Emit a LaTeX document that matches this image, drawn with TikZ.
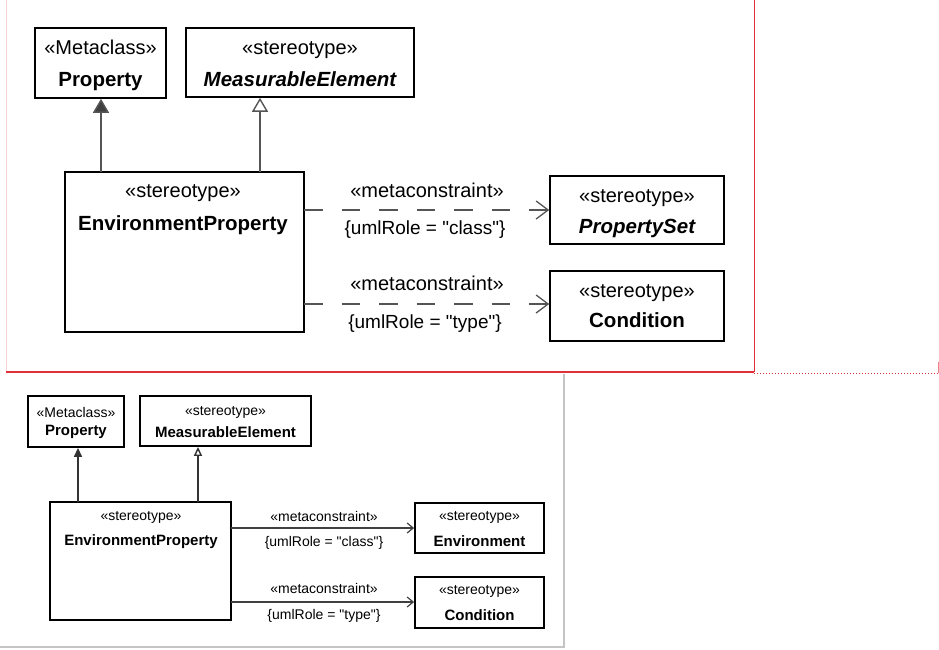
\documentclass[tikz,border=0pt]{standalone}
\usepackage{fontspec}
\setmainfont{Liberation Sans}[Ligatures=TeXOff]
\usetikzlibrary{arrows.meta,calc}
\definecolor{conn}{HTML}{555555}
\definecolor{tipfill}{HTML}{404040}
\definecolor{frred}{HTML}{E0303A}
\definecolor{frpink}{HTML}{F6D4D6}
\definecolor{frgray}{HTML}{C4C4C4}
\tikzset{
  box/.style={draw=black,line width=1.6pt,rectangle,inner sep=0pt},
  sbox/.style={draw=black,line width=1.8pt,rectangle,inner sep=0pt},
  txt/.style={inner sep=0pt,anchor=base,font=\fontsize{20}{22}\selectfont},
  btxt/.style={inner sep=0pt,anchor=base,font=\fontsize{20.5}{22}\selectfont\bfseries},
  bitxt/.style={inner sep=0pt,anchor=base,font=\fontsize{20.5}{22}\selectfont\bfseries\itshape},
  rtxt/.style={inner sep=0pt,anchor=base,font=\fontsize{19}{21}\selectfont},
  stxt/.style={inner sep=0pt,font=\fontsize{14}{15}\selectfont},
  sbtxt/.style={inner sep=0pt,font=\fontsize{15}{16}\selectfont\bfseries},
  genfill/.style={draw=conn,line width=1.4pt,-{Triangle[width=16pt,length=14pt,fill=tipfill]}},
  genopen/.style={draw=conn,line width=1.4pt,-{Triangle[open,width=16pt,length=14pt,fill=white]}},
  dep/.style={draw=conn,line width=1.3pt,dash pattern=on 18.5pt off 19pt,-{Straight Barb[length=12pt,width=18pt,line width=1.3pt]}},
  sgenfill/.style={draw=black!80,line width=1.4pt,-{Triangle[width=8pt,length=9pt,fill=black!80]}},
  sgenopen/.style={draw=black!80,line width=1.4pt,-{Triangle[open,width=8pt,length=9pt,fill=white]}},
  sdep/.style={draw=black!75,line width=1.2pt,-{Straight Barb[length=6pt,width=10pt,line width=1.2pt]}},
}
\begin{document}
\begin{tikzpicture}[x=1pt,y=-1pt]
\useasboundingbox (0,0) rectangle (939,649);
% frames
\draw[frpink,line width=1pt] (6,0) -- (6,372);
\draw[frred,line width=1pt] (754,0) -- (754,372);
\draw[frred,line width=2pt] (6,372) -- (754,372);
\draw[frred,line width=1pt,dotted] (754,373) -- (938,373);
\draw[frred!60,line width=1pt] (938,362) -- (938,373);
\draw[frgray,line width=1.5pt] (564,374) -- (564,647) -- (0,647);

% ===== top diagram =====
\node[box,minimum width=131pt,minimum height=70pt] (prop) at (100.5,63) {};
\node[txt] (propS) at (100.5,54) {«Metaclass»};
\node[btxt] (propN) at (100.5,86) {Property};

\node[box,minimum width=228pt,minimum height=69pt] (meas) at (300,62.5) {};
\node[txt] (measS) at (300,54) {«stereotype»};
\node[bitxt] (measN) at (300,86) {MeasurableElement};

\node[box,minimum width=239pt,minimum height=160pt] (env) at (184.5,252) {};
\node[txt] (envS) at (183,197) {«stereotype»};
\node[btxt] (envN) at (183,230) {EnvironmentProperty};

\node[box,minimum width=174pt,minimum height=68pt] (pset) at (637,210) {};
\node[txt] (psetS) at (637,202) {«stereotype»};
\node[bitxt] (psetN) at (637,233) {PropertySet};

\node[box,minimum width=174pt,minimum height=70pt] (cond) at (637,306) {};
\node[txt] (condS) at (637,297) {«stereotype»};
\node[btxt] (condN) at (637,327) {Condition};

\coordinate (g1) at (101,172);
\coordinate (g2) at (260,172);
\draw[genfill] (g1) -- (g1 |- prop.south);
\draw[genopen] (g2) -- (g2 |- meas.south);

\coordinate (d1) at (304,210);
\coordinate (d2) at (304,304);
\draw[dep] (d1) -- (d1 -| pset.west);
\draw[dep] (d2) -- (d2 -| cond.west);
\node[txt] (l1a) at (427,197) {«metaconstraint»};
\node[rtxt] (l1b) at (425,234) {\{umlRole = "class"\}};
\node[txt] (l2a) at (427,290) {«metaconstraint»};
\node[rtxt] (l2b) at (425,328) {\{umlRole = "type"\}};

% ===== bottom diagram =====
\node[sbox,minimum width=96pt,minimum height=51pt] (bprop) at (76,421.5) {};
\node[stxt] (bpropS) at (76,412) {«Metaclass»};
\node[sbtxt] (bpropN) at (76,432) {Property};

\node[sbox,minimum width=171pt,minimum height=50pt] (bmeas) at (225.5,421) {};
\node[stxt] (bmeasS) at (225.5,412) {«stereotype»};
\node[sbtxt] (bmeasN) at (225.5,432) {MeasurableElement};

\node[sbox,minimum width=181pt,minimum height=118pt] (benv) at (140.5,561) {};
\node[stxt] (benvS) at (141,517) {«stereotype»};
\node[sbtxt] (benvN) at (141,542) {EnvironmentProperty};

\node[sbox,minimum width=129pt,minimum height=50pt] (benvt) at (479.5,528) {};
\node[stxt] (benvtS) at (479.5,517) {«stereotype»};
\node[sbtxt] (benvtN) at (479.5,541) {Environment};

\node[sbox,minimum width=129pt,minimum height=51pt] (bcond) at (479.5,602.5) {};
\node[stxt] (bcondS) at (479.5,591) {«stereotype»};
\node[sbtxt] (bcondN) at (479.5,615) {Condition};

\coordinate (bg1) at (78,502);
\coordinate (bg2) at (198,502);
\draw[sgenfill] (bg1) -- (bg1 |- bprop.south);
\draw[sgenopen] (bg2) -- (bg2 |- bmeas.south);

\coordinate (bd1) at (231,528);
\coordinate (bd2) at (231,602);
\draw[sdep] (bd1) -- (bd1 -| benvt.west);
\draw[sdep] (bd2) -- (bd2 -| bcond.west);
\node[stxt] (bl1a) at (324,516) {«metaconstraint»};
\node[stxt] (bl1b) at (324,543) {\{umlRole = "class"\}};
\node[stxt] (bl2a) at (324,588) {«metaconstraint»};
\node[stxt] (bl2b) at (324,616) {\{umlRole = "type"\}};
\end{tikzpicture}
\end{document}
